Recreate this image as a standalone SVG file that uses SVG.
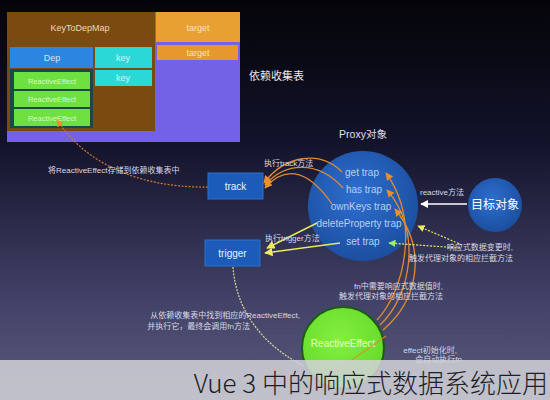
<svg xmlns="http://www.w3.org/2000/svg" width="550" height="400" viewBox="0 0 550 400">
<defs>
<linearGradient id="bg" x1="0" y1="0" x2="0" y2="1">
<stop offset="0" stop-color="#040408"/>
<stop offset="0.35" stop-color="#12122a"/>
<stop offset="0.75" stop-color="#424268"/>
<stop offset="1" stop-color="#5a5a7c"/>
</linearGradient>
<radialGradient id="blue" cx="0.45" cy="0.4" r="0.65">
<stop offset="0" stop-color="#2e6fd0"/>
<stop offset="1" stop-color="#1a4c9c"/>
</radialGradient>
<radialGradient id="green" cx="0.45" cy="0.4" r="0.65">
<stop offset="0" stop-color="#84f040"/>
<stop offset="1" stop-color="#62d828"/>
</radialGradient>
<marker id="aOr" viewBox="0 0 10 10" refX="9" refY="5" markerWidth="6" markerHeight="6" orient="auto-start-reverse"><path d="M0,0 L10,5 L0,10 z" fill="#e8902e"/></marker>
<marker id="aYe" viewBox="0 0 10 10" refX="9" refY="5" markerWidth="6" markerHeight="6" orient="auto-start-reverse"><path d="M0,0 L10,5 L0,10 z" fill="#ecec60"/></marker>
<marker id="aGr" viewBox="0 0 10 10" refX="9" refY="5" markerWidth="6" markerHeight="6" orient="auto-start-reverse"><path d="M0,0 L10,5 L0,10 z" fill="#a0f060"/></marker>
<marker id="aWh" viewBox="0 0 10 10" refX="9" refY="5" markerWidth="6" markerHeight="6" orient="auto-start-reverse"><path d="M0,0 L10,5 L0,10 z" fill="#ffffff"/></marker>
</defs>
<style>
text{font-family:"Liberation Sans","Noto Sans CJK SC",sans-serif;}
.lbl{font-size:8px;fill:#d8d8e4;}
.cell{font-size:9px;text-anchor:middle;}
.re{font-size:7.5px;fill:#d8f8c8;text-anchor:middle;}
.trap{font-size:10px;fill:#b8d0f0;text-anchor:middle;}
.box{fill:#1c5cb8;stroke:#2a70d0;stroke-width:1;}
.boxt{font-size:10px;fill:#e8f0ff;text-anchor:middle;}
.or{fill:none;stroke:#e08a30;stroke-width:1.3;}
.ye{fill:none;stroke:#e8e860;stroke-width:1.4;}
</style>
<rect x="0" y="0" width="550" height="400" fill="url(#bg)"/>

<g id="depmap-table">
<rect x="7" y="12" width="233" height="130" fill="#7462e6"/>
<rect x="7" y="12" width="148" height="119" fill="#7a4a0e"/>
<text x="80" y="31" class="cell" font-size="10" fill="#f0d8b0">KeyToDepMap</text>
<rect x="156" y="12" width="84" height="30" fill="#e8a032"/>
<text x="198" y="31" class="cell" font-size="10" fill="#f8e4b8">target</text>
<rect x="157" y="45" width="81" height="15" fill="#e4982e"/>
<text x="198" y="56" class="cell" font-size="8" fill="#f8e4b8">target</text>
</g>
<g id="dep">
<rect x="10" y="47" width="83" height="21" fill="#2a86e0"/>
<text x="52" y="61" class="cell" font-size="10" fill="#d0e4ff">Dep</text>
<rect x="10" y="69" width="83" height="59" fill="#1e4848"/>
<rect x="14" y="72" width="76" height="17" fill="#6ee040"/>
<text x="52" y="83.5" class="re">ReactiveEffect</text>
<rect x="14" y="91" width="76" height="16" fill="#6ee040"/>
<text x="52" y="102" class="re">ReactiveEffect</text>
<rect x="14" y="109" width="76" height="17" fill="#6ee040"/>
<text x="52" y="120.5" class="re">ReactiveEffect</text>
</g>
<g id="keys">
<rect x="95" y="47" width="57" height="21" fill="#2ad8d8"/>
<text x="123" y="61" class="cell" fill="#c8f8f8">key</text>
<rect x="95" y="70" width="57" height="16" fill="#2ad8d8"/>
<text x="123" y="81" class="cell" font-size="8" fill="#c8f8f8">key</text>
</g>
<text x="249" y="80" font-size="11" fill="#e8e8f0">依赖收集表</text>

<g id="proxy">
<text x="363" y="138" font-size="10.5" fill="#e0e0ea" text-anchor="middle">Proxy对象</text>
<circle cx="363" cy="206" r="55" fill="url(#blue)"/>
<text x="362" y="176" class="trap">get trap</text>
<text x="364" y="193" class="trap">has trap</text>
<text x="361" y="210" class="trap">ownKeys trap</text>
<text x="359" y="227" class="trap" fill="#e4f08a">deleteProperty trap</text>
<text x="363" y="245" class="trap" fill="#c8ff90">set trap</text>
</g>

<g id="target-object">
<circle cx="495" cy="205" r="27" fill="url(#blue)"/>
<text x="495" y="209" font-size="12" fill="#ffffff" text-anchor="middle">目标对象</text>
</g>

<g id="track">
<rect x="208" y="173" width="55" height="26" class="box"/>
<text x="235.5" y="190" class="boxt">track</text>
</g>
<g id="trigger">
<rect x="205" y="240" width="55" height="26" class="box"/>
<text x="232.5" y="257" class="boxt">trigger</text>
</g>

<g id="reactive-effect">
<circle cx="343" cy="348" r="41" fill="url(#green)" stroke="#1e5a12" stroke-width="2"/>
<text x="343" y="347" font-size="10" fill="#e4ffd8" text-anchor="middle">ReactiveEffect</text>
</g>

<g id="connectors">
<path d="M208,187 C150,188 90,170 57,120" fill="none" stroke="#d07a34" stroke-width="1.2" stroke-dasharray="2,1.5" marker-end="url(#aOr)"/>
<path d="M342,172 C320,150 285,155 264,183" class="or" marker-end="url(#aOr)"/>
<path d="M343,188 C318,160 285,162 265,185" class="or" marker-end="url(#aOr)"/>
<path d="M332,204 C305,165 282,168 265,188" class="or" marker-end="url(#aOr)"/>
<path d="M377,320 C405,290 420,220 386,173" class="or" stroke-width="1" marker-end="url(#aOr)"/>
<path d="M380,325 C412,295 422,230 387,190" class="or" stroke-width="1" marker-end="url(#aOr)"/>
<path d="M383,330 C418,300 428,250 395,209" class="or" stroke-width="1" marker-end="url(#aOr)"/>
<path d="M386,336 L312,388" class="or" stroke-width="1" opacity="0.8"/>
<path d="M317,223 L267,248" class="ye" marker-end="url(#aYe)"/>
<path d="M340,243 L265,253" class="ye" marker-end="url(#aYe)"/>
<path d="M462,245 L418,226" fill="none" stroke="#e8e860" stroke-width="1.2" stroke-dasharray="2,1.5" marker-end="url(#aYe)"/>
<path d="M460,248 L389,243" fill="none" stroke="#e8e860" stroke-width="1.2" stroke-dasharray="2,1.5" marker-end="url(#aGr)"/>
<path d="M467,204 L421,204" fill="none" stroke="#ffffff" stroke-width="1.3" marker-end="url(#aWh)"/>
<path d="M233,267 C236,310 262,345 304,366" fill="none" stroke="#d8d89a" stroke-width="1.2" stroke-dasharray="2,1.2"/>
</g>

<g id="labels">
<text x="264" y="166" class="lbl">执行track方法</text>
<text x="48" y="173" class="lbl">将ReactiveEffect存储到依赖收集表中</text>
<text x="420" y="195" class="lbl">reactive方法</text>
<text x="265" y="241" class="lbl">执行trigger方法</text>
<text x="513" y="250" class="lbl" text-anchor="end">响应式数据变更时,</text>
<text x="513" y="261" class="lbl" text-anchor="end">触发代理对象的相应拦截方法</text>
<text x="443" y="289" class="lbl" text-anchor="end">fn中需要响应式数据值时,</text>
<text x="443" y="299" class="lbl" text-anchor="end">触发代理对象的相应拦截方法</text>
<text x="300" y="318" class="lbl" text-anchor="end">从依赖收集表中找到相应的ReactiveEffect,</text>
<text x="250" y="329" class="lbl" text-anchor="end">并执行它，最终会调用fn方法</text>
<text x="457" y="353" class="lbl" text-anchor="end">effect初始化时,</text>
<text x="462" y="362" class="lbl" font-size="7.5" text-anchor="end">会自动执行fn</text>
</g>

<rect x="0" y="360" width="550" height="40" fill="#d2d2d8" opacity="0.86"/>
<text x="548" y="393" font-size="26" font-weight="300" fill="#1e1e24" text-anchor="end" style="font-family:'Noto Sans CJK SC','Noto Sans',sans-serif">Vue 3 中的响应式数据系统应用</text>
</svg>
